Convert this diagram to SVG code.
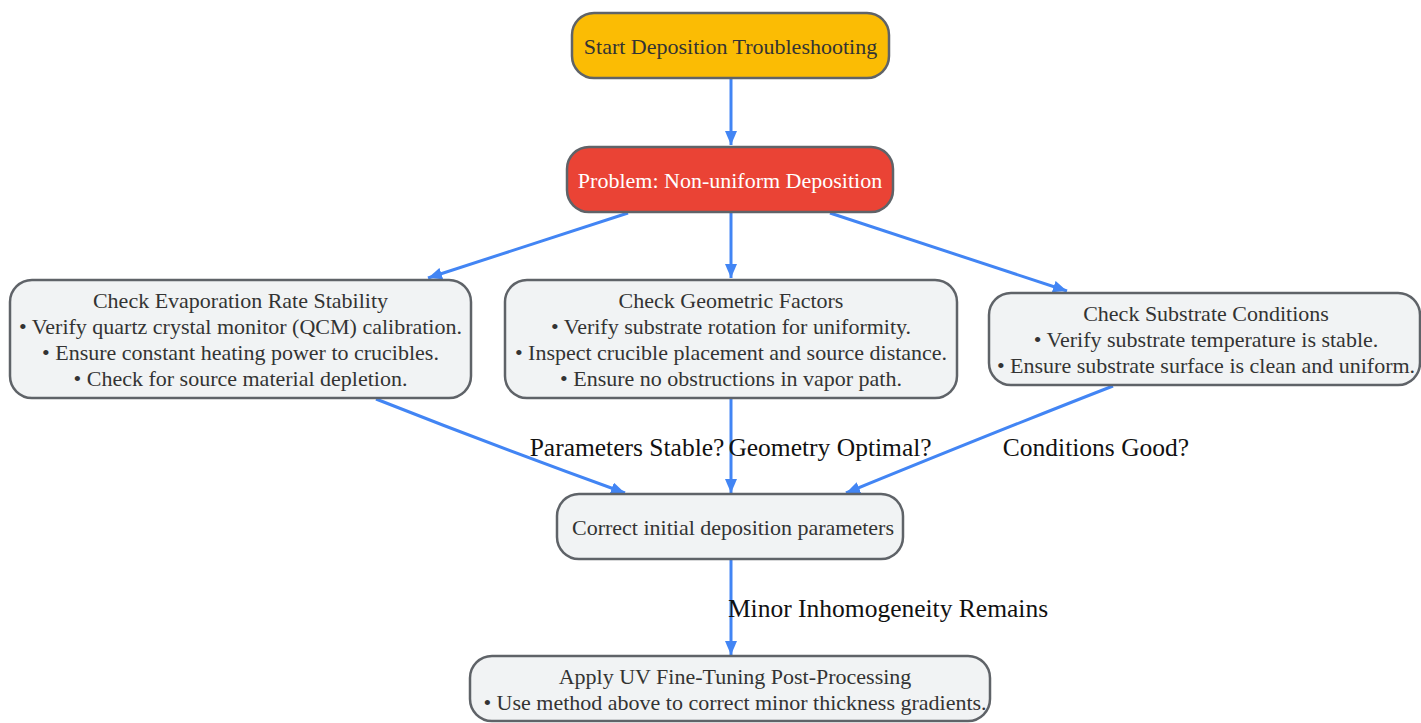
<svg xmlns="http://www.w3.org/2000/svg" width="1421" height="723" viewBox="0 0 1421 723">
<style>
.node rect{fill:#f1f3f4;stroke:#5f6368;stroke-width:2.5}
.node text{font-family:"Liberation Serif",serif;font-size:22px;fill:#333333;text-anchor:middle;dominant-baseline:central}
.edge{fill:none;stroke:#4285f4;stroke-width:3}
.lbl{font-family:"Liberation Serif",serif;font-size:25.5px;fill:#111111;text-anchor:middle;dominant-baseline:central}
</style>
<defs>
<marker id="ah" viewBox="0 0 14 12" refX="14" refY="6" markerWidth="14" markerHeight="12" markerUnits="userSpaceOnUse" orient="auto">
<path d="M0,0 L14,6 L0,12 z" fill="#4285f4"/>
</marker>
</defs>
<rect width="1421" height="723" fill="#ffffff"/>
<g id="connectors">
<path class="edge" d="M731,78 L731,145" marker-end="url(#ah)"/>
<path class="edge" d="M628,213 L428,278" marker-end="url(#ah)"/>
<path class="edge" d="M731,213 L731,278" marker-end="url(#ah)"/>
<path class="edge" d="M830,213 L1067,291" marker-end="url(#ah)"/>
<path class="edge" d="M376,399 Q500,448 625,493" marker-end="url(#ah)"/>
<path class="edge" d="M731,399 L731,493" marker-end="url(#ah)"/>
<path class="edge" d="M1113,386 Q1000,430 846,493" marker-end="url(#ah)"/>
<path class="edge" d="M731,560 L731,655" marker-end="url(#ah)"/>
<text class="lbl" x="627" y="447">Parameters Stable?</text>
<text class="lbl" x="830" y="447">Geometry Optimal?</text>
<text class="lbl" x="1096" y="447">Conditions Good?</text>
<text class="lbl" x="888" y="608">Minor Inhomogeneity Remains</text>
</g>
<g id="start" class="node">
<rect x="572" y="13" width="317" height="65" rx="22" style="fill:#fbbc04"/>
<text x="730.5" y="46">Start Deposition Troubleshooting</text>
</g>
<g id="problem" class="node">
<rect x="567" y="147" width="326" height="65" rx="22" style="fill:#ea4335"/>
<text x="730" y="180" style="fill:#ffffff">Problem: Non-uniform Deposition</text>
</g>
<g id="evap" class="node">
<rect x="10" y="280" width="461" height="118" rx="22"/>
<text x="240.5" y="300">Check Evaporation Rate Stability</text>
<text x="240.5" y="326">• Verify quartz crystal monitor (QCM) calibration.</text>
<text x="240.5" y="352">• Ensure constant heating power to crucibles.</text>
<text x="240.5" y="378">• Check for source material depletion.</text>
</g>
<g id="geom" class="node">
<rect x="505" y="280" width="452" height="118" rx="22"/>
<text x="731" y="300">Check Geometric Factors</text>
<text x="731" y="326">• Verify substrate rotation for uniformity.</text>
<text x="731" y="352">• Inspect crucible placement and source distance.</text>
<text x="731" y="378">• Ensure no obstructions in vapor path.</text>
</g>
<g id="substrate" class="node">
<rect x="989" y="293" width="431" height="92" rx="22"/>
<text x="1206" y="313">Check Substrate Conditions</text>
<text x="1206" y="339">• Verify substrate temperature is stable.</text>
<text x="1206" y="365">• Ensure substrate surface is clean and uniform.</text>
</g>
<g id="correct" class="node">
<rect x="557" y="494" width="346" height="65" rx="22"/>
<text x="733" y="527">Correct initial deposition parameters</text>
</g>
<g id="apply" class="node">
<rect x="470" y="656" width="520" height="65" rx="22"/>
<text x="735" y="676">Apply UV Fine-Tuning Post-Processing</text>
<text x="735" y="702">• Use method above to correct minor thickness gradients.</text>
</g>
</svg>
